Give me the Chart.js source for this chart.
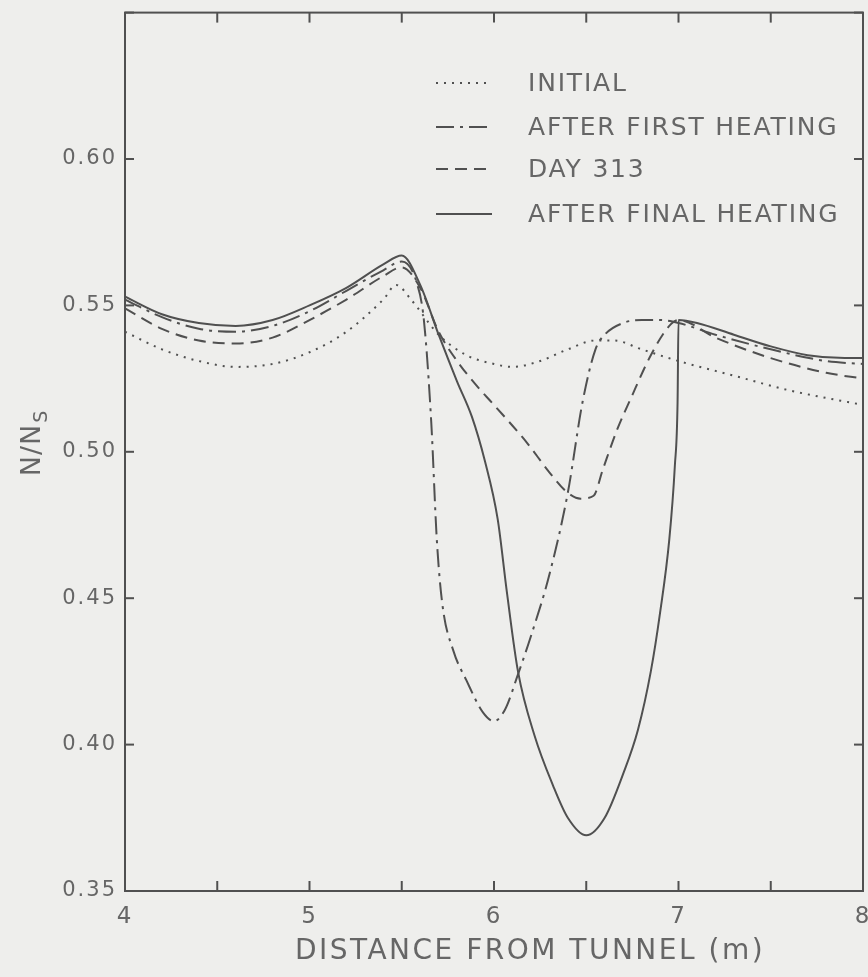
<!DOCTYPE html>
<html>
<head>
<meta charset="utf-8">
<title>N/Ns vs distance from tunnel</title>
<script src="https://cdn.jsdelivr.net/npm/chart.js@4.4.1/dist/chart.umd.min.js"></script>
<style>
  html, body { margin: 0; padding: 0; background: #eeeeec; }
  canvas { display: block; }
</style>
</head>
<body>
<canvas id="myChart" width="868" height="977"></canvas>
<script>
// values (distance in m, N/Ns)
const initialX = [4.0, 4.2, 4.4, 4.6, 4.8, 5.0, 5.2, 5.4, 5.47, 5.55, 5.7, 5.85, 6.0, 6.1, 6.25, 6.4, 6.55, 6.65, 6.8, 7.0, 7.3, 7.6, 8.0];
const initialY = [0.541, 0.535, 0.531, 0.529, 0.530, 0.534, 0.541, 0.552, 0.557, 0.552, 0.540, 0.533, 0.530, 0.529, 0.531, 0.535, 0.538, 0.538, 0.535, 0.531, 0.526, 0.521, 0.516];

const firstX = [4.0, 4.2, 4.4, 4.6, 4.8, 5.0, 5.2, 5.4, 5.5, 5.58, 5.62, 5.66, 5.69, 5.72, 5.78, 5.85, 5.94, 6.0, 6.06, 6.13, 6.2, 6.3, 6.4, 6.48, 6.55, 6.6, 6.7, 6.8, 6.9, 7.0, 7.2, 7.5, 7.8, 8.0];
const firstY = [0.552, 0.546, 0.542, 0.541, 0.543, 0.548, 0.555, 0.562, 0.565, 0.558, 0.545, 0.510, 0.470, 0.448, 0.432, 0.422, 0.411, 0.408, 0.412, 0.424, 0.437, 0.458, 0.486, 0.517, 0.535, 0.540, 0.544, 0.545, 0.545, 0.544, 0.540, 0.535, 0.531, 0.530];

const day313X = [4.0, 4.2, 4.4, 4.6, 4.8, 5.0, 5.2, 5.4, 5.5, 5.6, 5.7, 5.8, 5.9, 6.0, 6.18, 6.3, 6.4, 6.47, 6.54, 6.59, 6.67, 6.74, 6.85, 6.95, 7.0, 7.2, 7.5, 7.8, 8.0];
const day313Y = [0.549, 0.542, 0.538, 0.537, 0.539, 0.545, 0.552, 0.560, 0.563, 0.556, 0.541, 0.531, 0.523, 0.516, 0.503, 0.493, 0.486, 0.484, 0.485, 0.494, 0.508, 0.518, 0.533, 0.543, 0.545, 0.539, 0.532, 0.527, 0.525];

const finalX = [4.0, 4.2, 4.4, 4.6, 4.8, 5.0, 5.2, 5.4, 5.5, 5.6, 5.7, 5.8, 5.88, 5.95, 6.02, 6.07, 6.13, 6.22, 6.32, 6.4, 6.5, 6.6, 6.7, 6.78, 6.85, 6.9, 6.95, 6.98, 6.995, 7.0, 7.1, 7.3, 7.5, 7.7, 7.9, 8.0];
const finalY = [0.553, 0.547, 0.544, 0.543, 0.545, 0.550, 0.556, 0.564, 0.567, 0.557, 0.540, 0.524, 0.512, 0.497, 0.477, 0.452, 0.425, 0.403, 0.386, 0.375, 0.369, 0.375, 0.390, 0.405, 0.425, 0.445, 0.470, 0.495, 0.517, 0.545, 0.544, 0.540, 0.536, 0.533, 0.532, 0.532];

const seriesNames = ['INITIAL', 'AFTER FIRST HEATING', 'DAY 313', 'AFTER FINAL HEATING'];
const xTitle = 'DISTANCE FROM TUNNEL (m)';
const xMin = 4, xMax = 8, xStep = 0.5;
const yMin = 0.35, yMax = 0.65, yStep = 0.05;

const ink = '#505050';
const textInk = '#666666';

function pts(xs, ys) {
    return xs.map((x, i) => ({ x: x, y: ys[i] }));
}

function line(ctx, x1, y1, x2, y2) {
    ctx.beginPath();
    ctx.moveTo(x1, y1);
    ctx.lineTo(x2, y2);
    ctx.stroke();
}

// wide, spaced lettering like the original stencil text
const spacingPlugin = {
    id: 'spacing',
    beforeDraw(chart) { chart.ctx.letterSpacing = '2px'; },
    afterDraw(chart) { chart.ctx.letterSpacing = '0px'; }
};

// frame with inward ticks on all four sides, plus the axis titles
const framePlugin = {
    id: 'frame',
    afterDraw(chart) {
        const ctx = chart.ctx;
        const a = chart.chartArea;
        const x = chart.scales.x, y = chart.scales.y;
        ctx.save();
        ctx.strokeStyle = ink;
        ctx.lineWidth = 2;
        ctx.strokeRect(a.left, a.top, a.right - a.left, a.bottom - a.top);
        x.ticks.forEach(t => {
            const px = x.getPixelForValue(t.value);
            line(ctx, px, a.bottom, px, a.bottom - 10);
            line(ctx, px, a.top, px, a.top + 10);
        });
        y.ticks.forEach(t => {
            const py = y.getPixelForValue(t.value);
            line(ctx, a.left, py, a.left + 9, py);
            line(ctx, a.right, py, a.right - 9, py);
        });

        // x title
        ctx.fillStyle = textInk;
        ctx.font = '28px "DejaVu Sans"';
        ctx.letterSpacing = '2.5px';
        ctx.textAlign = 'center';
        ctx.textBaseline = 'middle';
        ctx.fillText(xTitle, 530, 952);

        // y title N/N_S, rotated
        ctx.letterSpacing = '1px';
        ctx.translate(33, 442);
        ctx.rotate(-Math.PI / 2);
        ctx.textAlign = 'left';
        ctx.font = '27px "DejaVu Sans"';
        const w = ctx.measureText('N/N').width;
        ctx.fillText('N/N', -w / 2 - 8, 0);
        ctx.font = '19px "DejaVu Sans"';
        ctx.fillText('S', w / 2 - 7, 9);
        ctx.restore();
    }
};

// legend drawn inside the plot with each dataset's own line style
const legendPlugin = {
    id: 'lineLegend',
    afterDatasetsDraw(chart) {
        const ctx = chart.ctx;
        const rows = [83, 127, 169, 214];
        ctx.save();
        chart.data.datasets.forEach((ds, i) => {
            ctx.strokeStyle = ds.borderColor;
            ctx.lineWidth = ds.borderWidth;
            ctx.setLineDash(ds.borderDash || []);
            line(ctx, 436, rows[i], 492, rows[i]);
            ctx.setLineDash([]);
            ctx.fillStyle = textInk;
            ctx.font = '25px "DejaVu Sans"';
            ctx.letterSpacing = '1.8px';
            ctx.textBaseline = 'middle';
            ctx.fillText(ds.label, 528, rows[i] + 1);
        });
        ctx.restore();
    }
};

const ctx = document.getElementById('myChart').getContext('2d');

new Chart(ctx, {
    type: 'line',
    data: {
        datasets: [{
            label: seriesNames[0],
            data: pts(initialX, initialY),
            borderColor: ink,
            borderWidth: 2,
            borderDash: [2, 6]
        }, {
            label: seriesNames[1],
            data: pts(firstX, firstY),
            borderColor: ink,
            borderWidth: 2,
            borderDash: [18, 6, 3, 6]
        }, {
            label: seriesNames[2],
            data: pts(day313X, day313Y),
            borderColor: ink,
            borderWidth: 2,
            borderDash: [12, 7]
        }, {
            label: seriesNames[3],
            data: pts(finalX, finalY),
            borderColor: ink,
            borderWidth: 2
        }]
    },
    options: {
        responsive: false,
        animation: false,
        events: [],
        layout: { padding: { left: 0, top: 12, right: 5, bottom: 0 } },
        elements: {
            point: { radius: 0 },
            line: { cubicInterpolationMode: 'monotone', fill: false }
        },
        plugins: {
            legend: { display: false },
            tooltip: { enabled: false }
        },
        scales: {
            x: {
                type: 'linear',
                min: xMin,
                max: xMax,
                grid: { display: false },
                border: { display: false },
                afterFit: (scale) => {
                    scale.height = 86;
                    scale.paddingLeft = 0;
                    scale.paddingRight = 0;
                },
                ticks: {
                    stepSize: xStep,
                    padding: 4,
                    color: textInk,
                    font: { family: 'DejaVu Sans', size: 23 },
                    maxRotation: 0,
                    callback: (v) => Number.isInteger(v) ? String(v) : ''
                }
            },
            y: {
                type: 'linear',
                min: yMin,
                max: yMax,
                grid: { display: false },
                border: { display: false },
                afterFit: (scale) => { scale.width = 125; },
                ticks: {
                    stepSize: yStep,
                    padding: 0,
                    color: textInk,
                    font: { family: 'DejaVu Sans', size: 21 },
                    callback: (v) => v > 0.64 ? '' : v.toFixed(2)
                }
            }
        }
    },
    plugins: [spacingPlugin, framePlugin, legendPlugin]
});
</script>
</body>
</html>
